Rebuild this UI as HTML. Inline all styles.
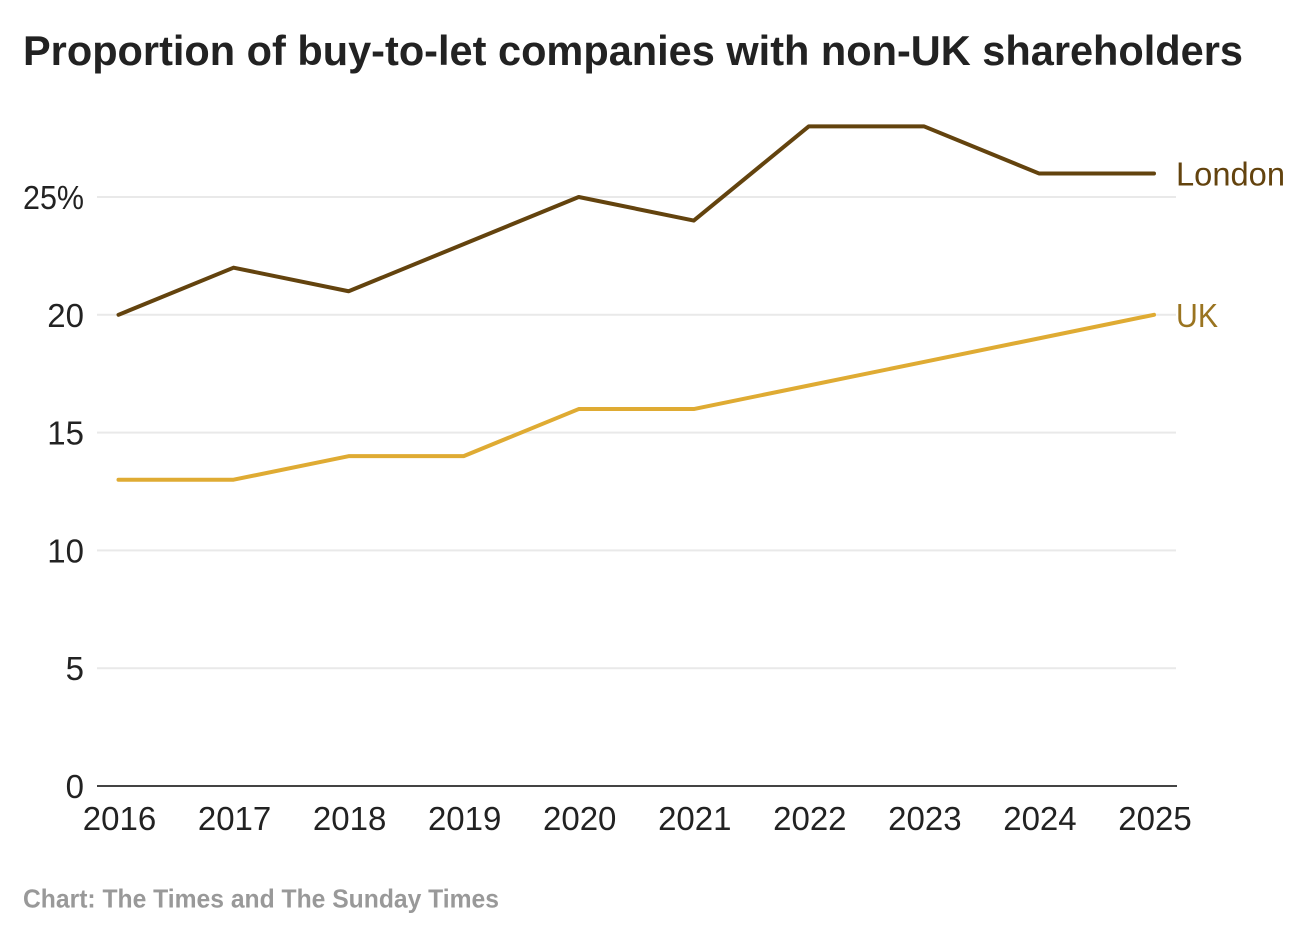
<!DOCTYPE html>
<html>
<head>
<meta charset="utf-8">
<style>
html,body{margin:0;padding:0;background:#fff;}
body{width:1308px;height:936px;overflow:hidden;position:relative;font-family:"Liberation Sans",sans-serif;}
svg{position:absolute;left:0;top:0;}
</style>
</head>
<body>
<svg id="chart" width="1308" height="936" viewBox="0 0 1308 936">
<text x="23" y="65" font-size="42" font-weight="700" fill="#222222" textLength="1220" lengthAdjust="spacingAndGlyphs">Proportion of buy-to-let companies with non-UK shareholders</text>
<g id="grid"></g>
<g id="yticks"></g>
<g id="xticks"></g>
<g id="lines"></g>
<text x="23" y="907.5" font-size="26" font-weight="700" fill="#999999" textLength="476" lengthAdjust="spacingAndGlyphs">Chart: The Times and The Sunday Times</text>
</svg>
<script>
const years = [2016, 2017, 2018, 2019, 2020, 2021, 2022, 2023, 2024, 2025];
const london = [20, 22, 21, 23, 25, 24, 28, 28, 26, 26];
const uk = [13, 13, 14, 14, 16, 16, 17, 18, 19, 20];
const yTicks = [0, 5, 10, 15, 20, 25];
const yTickLabels = ['0', '5', '10', '15', '20', '25%'];

const NS = 'http://www.w3.org/2000/svg';
const xScale = function (year) {
  return 118.5 + (year - years[0]) * (1154 - 118.5) / (years[years.length - 1] - years[0]);
};
const yScale = function (value) {
  return 786 - value * (786 - 197) / 25;
};
function make(tag, attrs, parent, text) {
  const el = document.createElementNS(NS, tag);
  Object.keys(attrs).forEach(function (k) { el.setAttribute(k, attrs[k]); });
  if (text !== undefined) el.textContent = text;
  parent.appendChild(el);
  return el;
}
const grid = document.getElementById('grid');
const yG = document.getElementById('yticks');
const xG = document.getElementById('xticks');
const linesG = document.getElementById('lines');

yTicks.forEach(function (v, i) {
  if (v !== 0) {
    const gl = make('line', {x1: 97, x2: 1176, y1: yScale(v), y2: yScale(v), stroke: '#e9e9e9', 'stroke-width': 2}, grid);
    
    
  }
  const label = yTickLabels[i];
  const t = make('text', {x: 84, y: yScale(v) + 12, 'text-anchor': 'end', 'font-size': 33, fill: '#222222'}, yG, label);
  if (label.indexOf('%') !== -1) {
    t.setAttribute('textLength', '61');
    t.setAttribute('lengthAdjust', 'spacingAndGlyphs');
  }
  
  
});

const axis = make('line', {x1: 97, x2: 1177, y1: yScale(0), y2: yScale(0), stroke: '#444444', 'stroke-width': 2}, xG);



years.forEach(function (yr) {
  const t = make('text', {x: xScale(yr) + 1, y: 830, 'text-anchor': 'middle', 'font-size': 33, fill: '#222222'}, xG, String(yr));
  
  
});

function pointsFor(series) {
  return series.map(function (v, i) { return xScale(years[i]) + ',' + yScale(v); }).join(' ');
}
const ukLine = make('polyline', {points: pointsFor(uk), fill: 'none', stroke: '#dfab33', 'stroke-width': 4, 'stroke-linejoin': 'round', 'stroke-linecap': 'round'}, linesG);


const lonLine = make('polyline', {points: pointsFor(london), fill: 'none', stroke: '#63430e', 'stroke-width': 4, 'stroke-linejoin': 'round', 'stroke-linecap': 'round'}, linesG);



const lonLabel = make('text', {x: 1176, y: yScale(london[london.length - 1]) + 12, 'font-size': 33, fill: '#63430e', textLength: 109, lengthAdjust: 'spacingAndGlyphs'}, linesG, 'London');


const ukLabel = make('text', {x: 1176, y: yScale(uk[uk.length - 1]) + 12, 'font-size': 33, fill: '#9a7420', textLength: 42, lengthAdjust: 'spacingAndGlyphs'}, linesG, 'UK');


</script>
</body>
</html>
